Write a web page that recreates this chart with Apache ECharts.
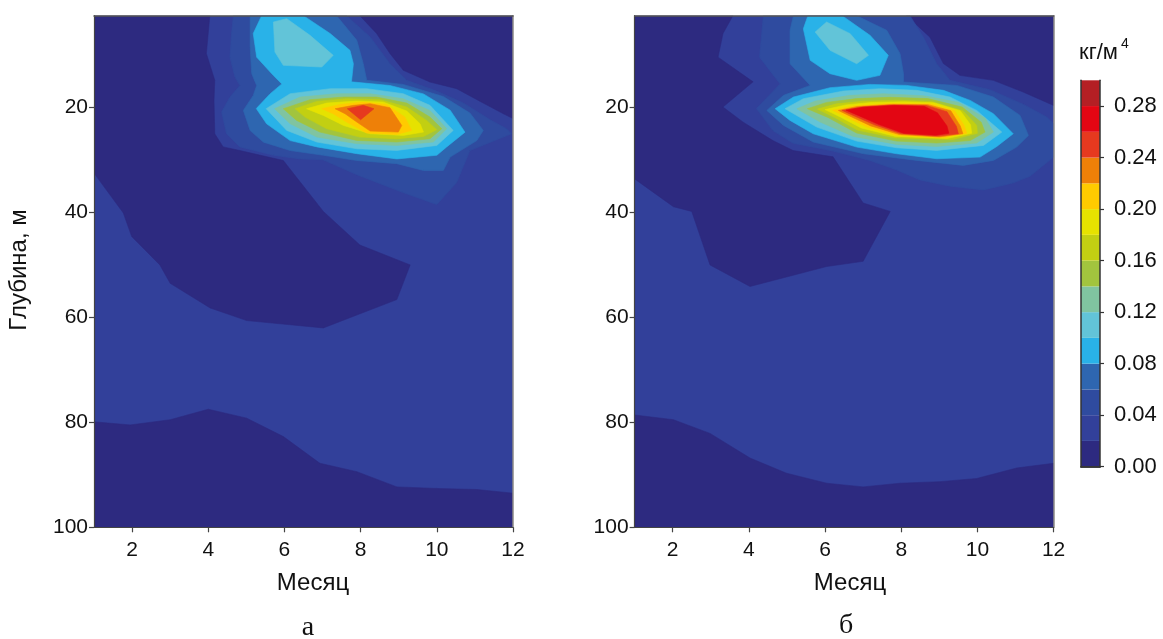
<!DOCTYPE html>
<html><head><meta charset="utf-8">
<script src="https://cdn.jsdelivr.net/npm/echarts@6/dist/echarts.min.js"></script>
<style>html,body{margin:0;padding:0;background:#fff}#c{width:1163px;height:639px}</style>
</head><body><div id="c"></div>
<script>
// ---- axis ticks / colour levels ----
const monthTicks = [2, 4, 6, 8, 10, 12];
const depthTicks = [20, 40, 60, 80, 100];
const cbarTicks = [0, 0.04, 0.08, 0.12, 0.16, 0.20, 0.24, 0.28];
const levelEdges = [0, 0.02, 0.04, 0.06, 0.08, 0.10, 0.12, 0.14, 0.16, 0.18, 0.20, 0.22, 0.24, 0.26, 0.28, 0.30];
const bandColors = ['#2D2A80', '#32409A', '#2F4B9F', '#2E66B0', '#29B2E8', '#62C4D8', '#80C4A0',
  '#A2C43E', '#C2CF12', '#E6E200', '#FFCB00', '#EE8008', '#E6391F', '#E30613', '#B41F24'];

// ---- panel (а): filled contour regions, [month, depth] ----
const aBase = [[1,2.5],[12,2.5],[12,100],[1,100]];
const aDarkTL = [[1,2.5],[4.04,2.5],[3.95,9.7],[4.17,14.8],[4.15,18.6],[4.17,25.0],[4.39,27.5],[4.83,28.2],[5.97,30.1],[7.02,39.8],[7.98,46.2],[9.30,50.0],[8.95,56.6],[7.02,62.0],[5.01,60.6],[4.05,58.2],[3.0,53.5],[2.73,50.0],[1.99,44.6],[1.77,40.1],[1,32.5]];
const aDarkBottom = [[1,79.9],[1.95,80.5],[3.0,79.5],[4.0,77.5],[5.01,79.2],[5.97,82.7],[6.93,87.8],[7.90,89.4],[8.95,92.3],[10.0,92.6],[11.05,92.8],[12,93.5],[12,100],[1,100]];
const aDarkTR = [[7.98,2.5],[8.42,5.9],[8.77,9.7],[9.12,12.9],[9.82,15.14],[10.52,16.4],[11.13,18.8],[11.75,21.2],[12,22.1],[12,2.5]];
const aL04 = [[4.66,2.5],[7.63,2.5],[8.25,6.56],[8.77,11.65],[9.21,14.82],[9.995,16.86],[10.70,19.15],[11.40,22.33],[11.83,24.04],[11.96,25.0],[10.87,28.2],[10.52,34.3],[10.0,38.5],[9.11,36.2],[7.90,32.8],[7.01,29.95],[6.41,29.8],[5.71,29.1],[4.83,27.5],[4.48,25.0],[4.35,20.86],[4.57,18.0],[4.83,15.8],[4.70,14.2],[4.57,10.4],[4.61,5.9]];
const aL06 = [[5.10,2.5],[7.37,2.5],[7.90,7.2],[8.07,11.65],[8.16,14.8],[9.12,15.6],[10.17,17.9],[10.87,21.05],[11.22,24.36],[11.05,26.3],[10.35,29.45],[10.17,32.0],[9.65,32.0],[8.95,30.7],[7.90,30.1],[7.02,29.1],[6.15,28.2],[5.45,26.6],[5.10,24.4],[4.92,20.55],[5.18,17.7],[5.27,15.8],[5.14,13.55],[5.10,8.5]];
const aL08 = [[5.40,2.5],[6.50,2.5],[7.20,5.9],[7.72,9.1],[7.81,11.65],[7.76,15.1],[8.77,15.8],[9.65,17.4],[10.35,20.5],[10.74,24.7],[10.26,27.5],[10.0,29.1],[8.95,29.8],[7.90,28.8],[6.85,27.5],[6.15,26.3],[5.53,23.1],[5.26,20.2],[5.62,17.4],[5.93,15.5],[5.71,13.9],[5.27,10.4],[5.18,5.9]];
const aL10Blob = [[5.71,3.7],[6.06,3.06],[6.67,6.24],[7.28,10.06],[6.98,12.28],[5.97,11.96],[5.75,9.42]];
const aL10 = [[5.52,20.23],[6.15,17.37],[7.20,16.41],[8.16,16.41],[9.12,17.37],[9.82,19.59],[10.43,24.36],[10.0,27.22],[8.95,28.17],[7.90,27.86],[6.85,26.58],[6.06,24.36]];
const aL12 = [[5.74,20.23],[6.41,18.0],[7.37,17.37],[8.25,17.37],[9.12,18.32],[9.82,20.55],[10.26,24.04],[9.91,26.58],[8.95,27.22],[7.90,26.9],[6.85,25.63],[6.15,23.09]];
const aL14 = [[5.97,20.23],[6.67,18.51],[7.55,18.0],[8.42,18.0],[9.21,19.15],[9.82,21.82],[10.13,24.04],[9.82,25.95],[8.95,26.58],[7.90,26.27],[6.93,24.68],[6.32,22.45]];
const aL16 = [[6.28,20.23],[6.85,18.83],[7.63,18.32],[8.51,18.51],[9.21,19.91],[9.73,22.45],[9.995,24.23],[9.65,25.5],[8.95,25.95],[7.98,25.63],[7.11,24.04],[6.54,21.82]];
const aL18 = [[6.58,20.23],[7.11,19.15],[7.90,18.77],[8.59,18.96],[9.21,20.67],[9.56,23.09],[9.65,24.68],[9.12,25.31],[8.25,25.0],[7.55,23.41],[7.02,21.5]];
const aL20 = [[6.98,20.23],[7.46,19.4],[8.07,18.96],[8.68,19.4],[9.16,21.82],[9.34,24.36],[8.95,25.12],[8.16,24.87],[7.63,22.77],[7.28,21.18]];
const aL22 = [[7.33,20.23],[7.81,19.59],[8.25,19.27],[8.77,20.04],[9.08,23.41],[8.99,24.68],[8.25,24.49],[7.90,22.77],[7.59,21.18]];
const aL24 = [[7.65,20.23],[8.07,19.59],[8.35,20.23],[8.0,22.33]];

// ---- panel (б) ----
const bBase = [[1,2.5],[12,2.5],[12,100],[1,100]];
const bDarkTL = [[1,2.5],[3.58,2.5],[3.32,5.9],[3.19,10.4],[4.11,15.1],[3.32,19.9],[3.85,22.8],[4.63,26.3],[5.16,28.2],[6.21,29.4],[7.0,38.2],[7.71,39.8],[7.0,49.3],[6.04,50.3],[4.03,54.1],[2.98,50.0],[2.50,39.8],[2.02,38.9],[1.0,33.6]];
const bDarkBottom = [[1,78.6],[2.02,79.5],[2.98,82.1],[4.03,86.8],[4.99,89.7],[6.04,91.6],[7.0,92.3],[7.97,91.6],[9.02,91.3],[9.98,90.7],[11.03,88.7],[12,87.8],[12,100],[1,100]];
const bDarkTR = [[8.14,2.5],[8.755,6.6],[9.105,11.6],[9.54,13.87],[10.42,14.82],[11.2,17.05],[12,19.6],[12,2.5]];
const bL04 = [[4.38,2.5],[8.23,2.5],[8.58,6.56],[8.93,11.65],[9.28,14.82],[10.33,16.6],[11.21,19.4],[11.82,21.82],[12,23.09],[12,29.45],[11.38,33.1],[10.93,34.4],[10.16,35.7],[9.28,35.0],[8.49,33.8],[7.88,31.9],[7.18,30.1],[6.21,28.3],[5.16,26.8],[4.63,24.4],[4.20,20.2],[4.82,15.5],[4.28,10.4]];
const bL06 = [[5.17,2.5],[6.83,2.5],[7.62,5.29],[7.97,9.74],[8.06,13.55],[8.06,15.14],[9.46,15.78],[10.42,18.0],[11.12,21.5],[11.34,25.31],[11.03,27.54],[10.42,30.08],[9.63,31.03],[8.41,30.08],[7.01,28.81],[5.69,26.58],[4.91,23.41],[4.47,20.55],[4.91,17.68],[5.61,15.78],[5.08,11.65],[5.08,5.29]];
const bL08Blob = [[5.43,5.0],[5.55,2.5],[6.45,2.5],[7.18,6.24],[7.66,10.06],[7.44,13.87],[6.83,14.82],[6.13,13.55],[5.61,11.01]];
const bL08 = [[4.69,20.23],[5.17,18.0],[6.13,16.22],[7.18,15.59],[8.14,15.78],[9.11,16.73],[9.81,18.64],[10.42,21.18],[10.94,25.0],[10.51,27.41],[10.07,29.45],[8.93,29.76],[7.88,28.81],[6.83,27.54],[5.69,25.0],[5.08,22.45]];
const bL10Blob = [[5.74,5.61],[6.04,3.7],[6.66,5.92],[7.14,10.06],[6.83,11.65],[6.13,9.1]];
const bL10 = [[4.95,20.23],[5.43,18.32],[6.48,16.86],[7.44,16.41],[8.41,16.73],[9.28,18.0],[9.98,20.55],[10.64,24.68],[10.16,27.22],[8.93,28.17],[7.88,27.67],[6.83,26.4],[5.78,23.72]];
const bL12 = [[5.26,20.23],[5.74,18.77],[6.66,17.68],[7.53,17.37],[8.58,17.75],[9.5,19.0],[10.2,22.0],[10.42,24.68],[9.98,26.77],[8.93,27.41],[7.88,27.03],[6.74,25.5],[5.87,22.77]];
const bL14 = [[5.535,20.23],[6.04,19.02],[6.83,18.3],[7.71,18.05],[8.7,18.3],[9.6,19.9],[10.1,22.8],[10.2,24.68],[9.81,26.3],[8.93,26.77],[7.88,26.4],[6.83,24.87],[6.09,21.94]];
const bL16 = [[5.80,20.3],[6.3,19.3],[7.01,18.8],[7.88,18.6],[8.8,18.85],[9.62,20.6],[9.98,23.4],[10.0,24.9],[9.35,26.1],[7.85,25.8],[6.85,24.3],[6.25,21.9]];
const bL18 = [[6.0,20.4],[6.55,19.5],[7.2,19.05],[8.06,18.9],[8.85,19.1],[9.55,20.6],[9.82,23.3],[9.85,24.9],[9.2,25.9],[7.85,25.5],[6.95,23.9],[6.4,21.8]];
const bL20 = [[6.2,20.5],[6.75,19.7],[7.7,19.25],[8.75,19.3],[9.4,20.6],[9.65,23.4],[9.72,24.9],[9.1,25.75],[7.9,25.35],[7.1,23.7],[6.55,21.8]];
const bL22 = [[6.35,20.55],[6.85,19.8],[7.75,19.4],[8.7,19.45],[9.3,20.6],[9.55,23.5],[9.62,25.0],[9.0,25.6],[7.95,25.15],[7.2,23.5],[6.7,21.8]];
const bL24 = [[6.45,20.55],[6.95,19.9],[7.8,19.5],[8.65,19.6],[9.2,20.8],[9.45,23.6],[9.5,25.0],[8.95,25.45],[8.0,25.0],[7.3,23.3],[6.8,21.7]];
const bL26 = [[6.55,20.5],[7.0,19.95],[7.8,19.6],[8.6,19.75],[8.95,21.0],[9.2,23.5],[9.25,24.9],[8.9,25.3],[8.06,24.9],[7.4,23.2],[6.9,21.6]];

// drawing order (painter's): [level lower bound, polygon]
const regionsA = [[0.02,aBase],[0,aDarkTL],[0,aDarkBottom],[0,aDarkTR],[0.04,aL04],[0.06,aL06],[0.08,aL08],
  [0.10,aL10Blob],[0.10,aL10],[0.12,aL12],[0.14,aL14],[0.16,aL16],[0.18,aL18],[0.20,aL20],[0.22,aL22],[0.24,aL24]];
const regionsB = [[0.02,bBase],[0,bDarkTL],[0,bDarkBottom],[0,bDarkTR],[0.04,bL04],[0.06,bL06],[0.08,bL08Blob],[0.08,bL08],
  [0.10,bL10Blob],[0.10,bL10],[0.12,bL12],[0.14,bL14],[0.16,bL16],[0.18,bL18],[0.20,bL20],[0.22,bL22],[0.24,bL24],[0.26,bL26]];

const FONT = '"Liberation Sans", Arial, Helvetica, sans-serif';
const chart = echarts.init(document.getElementById('c'), null, {renderer: 'canvas'});

function contourSeries(regions, xi, yi) {
  return {
    type: 'custom', xAxisIndex: xi, yAxisIndex: yi, silent: true, animation: false, clip: true,
    encode: {x: 0, y: 1},
    data: regions.map((r, i) => [r[1][0][0], r[1][0][1], i]),
    renderItem: function (params, api) {
      const r = regions[api.value(2)];
      const col = bandColors[Math.round(r[0] / 0.02)];
      const pts = r[1].map(p => api.coord(p));
      return {type: 'polygon', shape: {points: pts}, style: {fill: col, stroke: col, lineWidth: 0.6}};
    }
  };
}

const gridTop = 15.7, gridH = 511.6;
function xBottom(gi) {
  return {gridIndex: gi, type: 'value', min: 1, max: 12, position: 'bottom', z: 10,
    axisLine: {show: true, lineStyle: {color: '#444', width: 1.2}},
    axisTick: {show: true, length: 5, customValues: monthTicks, lineStyle: {color: '#444', width: 1.2}},
    axisLabel: {customValues: monthTicks, margin: 12, fontSize: 21, color: '#111', fontFamily: FONT},
    splitLine: {show: false}};
}
function xTop(gi) {
  return {gridIndex: gi, type: 'value', min: 1, max: 12, position: 'top', z: 10,
    axisLine: {show: true, lineStyle: {color: '#555', width: 1.5}}, axisTick: {show: false}, axisLabel: {show: false}, splitLine: {show: false}};
}
function yLeft(gi) {
  return {gridIndex: gi, type: 'value', min: 2.5, max: 100, inverse: true, position: 'left', z: 10,
    axisLine: {show: true, lineStyle: {color: '#444', width: 1.2}},
    axisTick: {show: true, length: 5, customValues: depthTicks, lineStyle: {color: '#444', width: 1.2}},
    axisLabel: {customValues: depthTicks, margin: 6, fontSize: 21, color: '#111', fontFamily: FONT},
    splitLine: {show: false}};
}
function yRight(gi) {
  return {gridIndex: gi, type: 'value', min: 2.5, max: 100, inverse: true, position: 'right', z: 10,
    axisLine: {show: true, lineStyle: {color: '#8d8a86', width: 1.5}}, axisTick: {show: false}, axisLabel: {show: false}, splitLine: {show: false}};
}

const cbSeries = bandColors.map((c, i) => ({
  type: 'bar', xAxisIndex: 4, yAxisIndex: 4, stack: 'cb', barWidth: '100%', silent: true, animation: false,
  data: [levelEdges[i + 1] - levelEdges[i]], itemStyle: {color: c}
}));

chart.setOption({
  backgroundColor: '#ffffff',
  animation: false,
  grid: [
    {left: 94, top: gridTop, width: 419, height: gridH},
    {left: 634.6, top: gridTop, width: 419, height: gridH},
    {left: 1081, top: 80.3, width: 19, height: 386.4}
  ],
  xAxis: [xBottom(0), xTop(0), xBottom(1), xTop(1),
    {gridIndex: 2, type: 'category', data: ['c'], position: 'bottom', z: 10, axisLine: {lineStyle: {color: '#333', width: 1.5}}, axisTick: {show: false}, axisLabel: {show: false}},
    {gridIndex: 2, type: 'category', data: ['c'], position: 'top', z: 10, axisLine: {lineStyle: {color: '#333', width: 1.5}}, axisTick: {show: false}, axisLabel: {show: false}}
  ],
  yAxis: [yLeft(0), yRight(0), yLeft(1), yRight(1),
    {gridIndex: 2, type: 'value', min: 0, max: 0.30, position: 'right', z: 10,
      axisLine: {show: true, lineStyle: {color: '#333', width: 1.5}},
      axisTick: {show: true, length: 4, customValues: cbarTicks, lineStyle: {color: '#333', width: 1.2}},
      axisLabel: {customValues: cbarTicks, margin: 14, fontSize: 22, color: '#111', fontFamily: FONT, formatter: v => v.toFixed(2)},
      splitLine: {show: false}},
    {gridIndex: 2, type: 'value', min: 0, max: 0.30, position: 'left', z: 10,
      axisLine: {show: true, lineStyle: {color: '#333', width: 1.5}}, axisTick: {show: false}, axisLabel: {show: false}, splitLine: {show: false}}
  ],
  series: [contourSeries(regionsA, 0, 0), contourSeries(regionsB, 2, 2)].concat(cbSeries),
  graphic: [
    {type: 'text', x: 19, y: 270, rotation: Math.PI / 2, style: {text: 'Глубина, м', font: '24px ' + FONT, fill: '#111', textAlign: 'center', textVerticalAlign: 'middle'}},
    {type: 'text', x: 313, y: 583, style: {text: 'Месяц', font: '24px ' + FONT, fill: '#111', textAlign: 'center', textVerticalAlign: 'middle'}},
    {type: 'text', x: 850, y: 583, style: {text: 'Месяц', font: '24px ' + FONT, fill: '#111', textAlign: 'center', textVerticalAlign: 'middle'}},
    {type: 'text', x: 308, y: 628, style: {text: 'а', font: '28px "Liberation Serif", "Times New Roman", serif', fill: '#111', textAlign: 'center', textVerticalAlign: 'middle'}},
    {type: 'text', x: 846, y: 626, style: {text: 'б', font: '28px "Liberation Serif", "Times New Roman", serif', fill: '#111', textAlign: 'center', textVerticalAlign: 'middle'}},
    {type: 'text', x: 1079, y: 53, style: {text: 'кг/м', font: '22px ' + FONT, fill: '#111', textAlign: 'left', textVerticalAlign: 'middle'}},
    {type: 'text', x: 1121, y: 44, style: {text: '4', font: '14px ' + FONT, fill: '#111', textAlign: 'left', textVerticalAlign: 'middle'}}
  ]
});
</script></body></html>
